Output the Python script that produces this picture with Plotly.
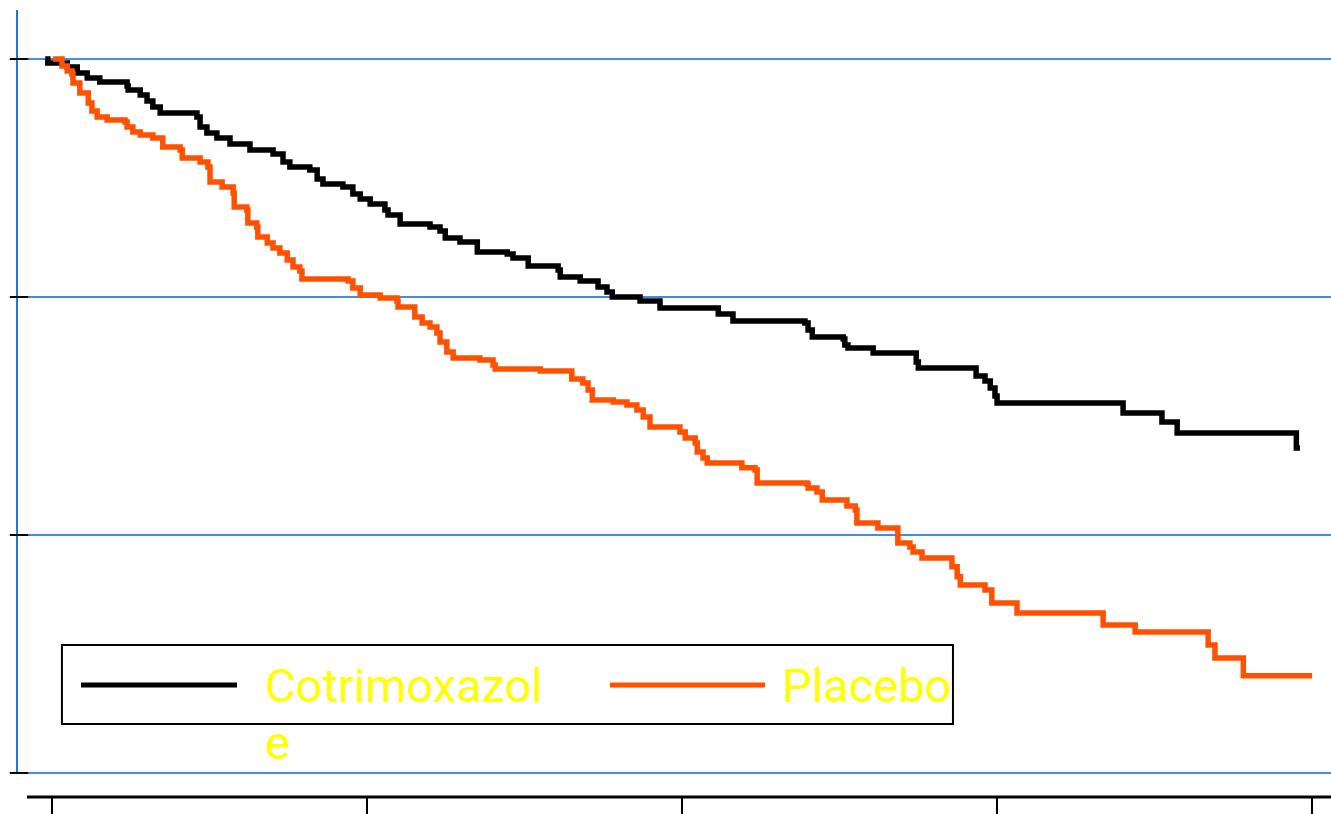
import plotly.graph_objects as go

# Survival (%) by month of follow-up, step curves
cotrim_months = [-0.13, -0.08, 0.29, 0.48, 0.67, 0.91, 1.43, 1.45, 1.68, 1.81, 1.92, 2.06,
                 2.76, 2.82, 2.95, 3.14, 3.39, 3.77, 4.21, 4.40, 4.53, 4.91, 5.05, 5.16,
                 5.54, 5.73, 5.87, 6.06, 6.34, 6.40, 6.63, 7.20, 7.39, 7.49, 7.77, 8.10,
                 8.67, 8.78, 9.07, 9.64, 9.68, 10.06, 10.40, 10.57, 10.67, 11.20, 11.58,
                 12.69, 12.97, 14.34, 14.40, 14.48, 15.07, 15.10, 15.16, 15.64, 16.46,
                 16.50, 17.60, 17.77, 17.87, 17.96, 18.00, 20.40, 21.14, 21.43, 23.70, 23.77]
cotrim_surv = [100.0, 99.83, 99.66, 99.41, 99.20, 99.03, 98.87, 98.70, 98.49, 98.24, 97.98, 97.73,
               97.56, 97.14, 96.89, 96.68, 96.43, 96.18, 96.01, 95.67, 95.46, 95.34, 94.96, 94.75,
               94.62, 94.33, 94.12, 93.91, 93.66, 93.45, 93.07, 92.94, 92.77, 92.48, 92.31, 91.89,
               91.81, 91.64, 91.30, 91.13, 90.84, 90.67, 90.42, 90.21, 90.00, 89.83, 89.54,
               89.29, 88.99, 88.91, 88.61, 88.32, 88.24, 87.98, 87.86, 87.65, 87.27,
               87.02, 86.68, 86.47, 86.18, 85.84, 85.55, 85.13, 84.75, 84.29, 83.66, 83.66]

placebo_months = [0.02, 0.19, 0.29, 0.38, 0.40, 0.53, 0.69, 0.76, 0.86, 1.05, 1.39, 1.43, 1.54,
                  1.68, 1.92, 2.11, 2.44, 2.48, 2.82, 2.97, 3.01, 3.24, 3.45, 3.47, 3.71, 3.73,
                  3.90, 3.92, 4.10, 4.21, 4.34, 4.48, 4.59, 4.72, 4.76, 5.64, 5.73, 5.87, 6.25,
                  6.57, 6.59, 6.91, 7.05, 7.20, 7.33, 7.39, 7.52, 7.64, 8.15, 8.40, 8.44, 9.30,
                  9.90, 10.11, 10.21, 10.29, 10.69, 10.95, 11.14, 11.26, 11.39, 11.96, 12.06,
                  12.25, 12.29, 12.40, 12.48, 13.14, 13.39, 13.43, 14.38, 14.40, 14.57, 14.67,
                  15.14, 15.30, 15.33, 15.73, 16.11, 16.34, 16.40, 16.57, 17.14, 17.24, 17.30,
                  17.77, 17.90, 18.38, 20.02, 20.63, 22.02, 22.15, 22.69, 24.00]
placebo_surv = [100.0, 99.71, 99.50, 99.37, 98.99, 98.57, 98.15, 97.82, 97.56, 97.44, 97.35, 97.14, 96.93,
                96.81, 96.68, 96.30, 96.18, 95.84, 95.67, 95.46, 94.83, 94.62, 94.37, 93.78, 93.66, 93.11,
                92.94, 92.52, 92.27, 92.06, 91.85, 91.55, 91.26, 91.09, 90.76, 90.67, 90.38, 90.08, 89.96,
                89.83, 89.58, 89.16, 88.91, 88.74, 88.49, 88.11, 87.69, 87.44, 87.35, 87.14, 86.97, 86.89,
                86.55, 86.39, 86.09, 85.67, 85.59, 85.46, 85.25, 84.96, 84.54, 84.33, 84.08,
                83.87, 83.49, 83.24, 83.03, 82.82, 82.73, 82.18, 82.14, 81.97, 81.81, 81.47,
                81.22, 81.05, 80.50, 80.29, 79.66, 79.50, 79.29, 79.03, 78.66, 78.24, 77.90,
                77.69, 77.14, 76.72, 76.22, 75.92, 75.38, 74.83, 74.08, 74.08]

series_names = ["Cotrimoxazol", "Placebo"]
series_colors = ["#000000", "#ff5100"]

x_ticks = [0, 6, 12, 18, 24]
y_ticks = [70, 80, 90, 100]

GRID_BLUE = "#4a86ec"
AXIS_BLUE = "#1f78d8"
TEXT_YELLOW = "#ffff00"
LABEL_FONT = "Roboto"

fig = go.Figure()
for months, surv, name, color in [
    (cotrim_months, cotrim_surv, series_names[0], series_colors[0]),
    (placebo_months, placebo_surv, series_names[1], series_colors[1]),
]:
    fig.add_trace(go.Scatter(
        x=months, y=surv, mode="lines", name=name,
        line=dict(color=color, width=5.5, shape="hv"),
        showlegend=False,
    ))

Y_MIN, Y_MAX = 68.99, 102.06

fig.update_layout(
    width=1331, height=814,
    margin=dict(l=17, r=0, t=10, b=17, pad=0),
    paper_bgcolor="white", plot_bgcolor="white",
    xaxis=dict(range=[-0.667, 24.36], tickvals=x_ticks, showticklabels=False,
               ticks="outside", ticklen=18, tickwidth=2, tickcolor="black",
               showgrid=False, zeroline=False, showline=False),
    yaxis=dict(range=[Y_MIN, Y_MAX], tickvals=y_ticks, showticklabels=False,
               ticks="", showgrid=True, gridcolor=GRID_BLUE, gridwidth=2,
               zeroline=False, showline=False),
)

shapes = []
# vertical axis line, from the lowest gridline to the top of the plot
shapes.append(dict(type="line", xref="paper", yref="y", x0=0, x1=0,
                   y0=min(y_ticks), y1=Y_MAX, line=dict(color=AXIS_BLUE, width=2)))
# tick marks crossing the vertical axis
for v in y_ticks:
    shapes.append(dict(type="line", xref="paper", yref="y", x0=-0.0055, x1=0.0085,
                       y0=v, y1=v, line=dict(color="black", width=2)))
# horizontal time axis below the plot
shapes.append(dict(type="line", xref="paper", yref="paper", x0=0.0076, x1=1,
                   y0=0, y1=0, line=dict(color="black", width=3)))

# legend frame and samples
shapes.append(dict(type="rect", xref="paper", yref="paper", x0=0.0342, x1=0.7123,
                   y0=0.0928, y1=0.1931, line=dict(color="black", width=2),
                   fillcolor="white", layer="above"))
shapes.append(dict(type="line", xref="paper", yref="paper", x0=0.0487, x1=0.1674,
                   y0=0.1423, y1=0.1423, line=dict(color=series_colors[0], width=5)))
shapes.append(dict(type="line", xref="paper", yref="paper", x0=0.4513, x1=0.5693,
                   y0=0.1423, y1=0.1423, line=dict(color=series_colors[1], width=5)))
fig.update_layout(shapes=shapes)

label_font = dict(family=LABEL_FONT, size=47, color=TEXT_YELLOW)
fig.add_annotation(xref="paper", yref="paper", x=0.1872, y=0.1423, xanchor="left",
                   yanchor="middle", text=series_names[0], showarrow=False, font=label_font)
fig.add_annotation(xref="paper", yref="paper", x=0.1872, y=0.0690, xanchor="left",
                   yanchor="middle", text="e", showarrow=False, font=label_font)
fig.add_annotation(xref="paper", yref="paper", x=0.5807, y=0.1423, xanchor="left",
                   yanchor="middle", text=series_names[1], showarrow=False, font=label_font)

fig.write_html("out.html")
